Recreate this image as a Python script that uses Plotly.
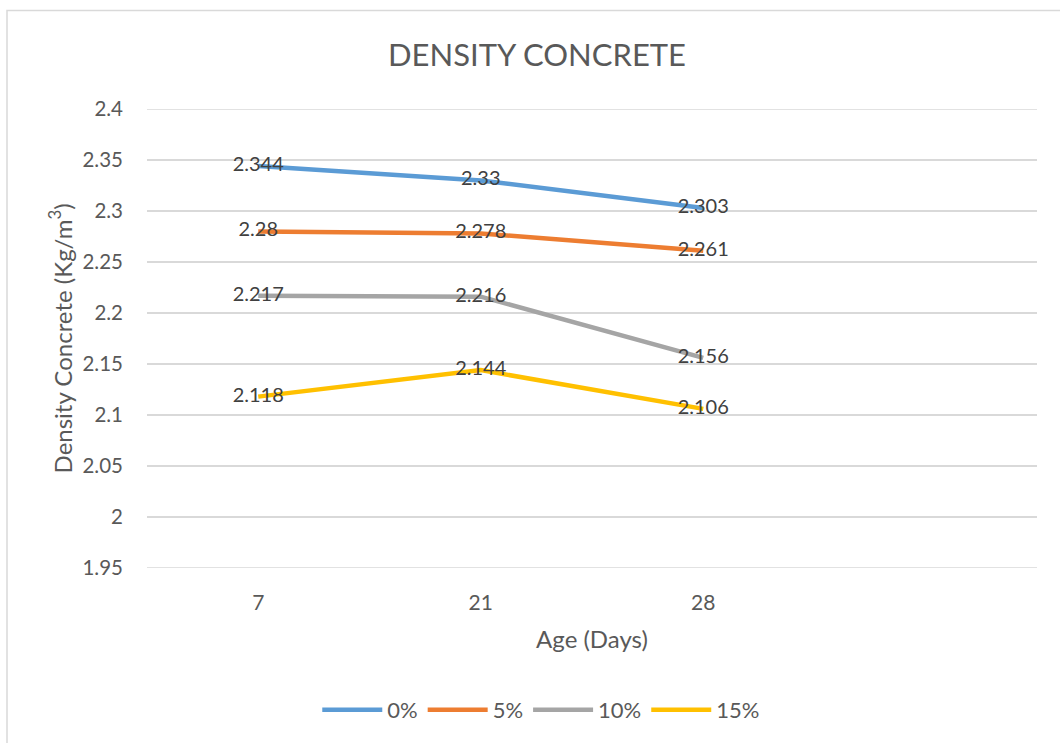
import plotly.graph_objects as go

# Age in days (4th slot on the axis is empty, as in the original)
ages = ["7", "21", "28"]
x_pos = [0, 1, 2]

series_names = ["0%", "5%", "10%", "15%"]
d0 = [2.344, 2.33, 2.303]
d5 = [2.28, 2.278, 2.261]
d10 = [2.217, 2.216, 2.156]
d15 = [2.118, 2.144, 2.106]

y_ticks = [1.95, 2.0, 2.05, 2.1, 2.15, 2.2, 2.25, 2.3, 2.35, 2.4]
y_tick_text = ["1.95", "2", "2.05", "2.1", "2.15", "2.2", "2.25", "2.3", "2.35", "2.4"]

colors = ["#5b9bd5", "#ed7d31", "#a5a5a5", "#ffc000"]
FONT = "Lato, Open Sans, sans-serif"
GRID = "#d9d9d9"

fig = go.Figure()
for name, vals, c in zip(series_names, [d0, d5, d10, d15], colors):
    fig.add_trace(go.Scatter(
        x=x_pos, y=vals, name=name, mode="lines+text",
        line=dict(color=c, width=4.5),
        text=[str(v) for v in vals], textposition="middle center",
        textfont=dict(family=FONT, size=20, color="#404040"),
        cliponaxis=False,
    ))

fig.update_layout(
    width=1060, height=743,
    margin=dict(l=147, r=23, t=109, b=173),
    paper_bgcolor="white", plot_bgcolor="white",
    font=dict(family=FONT, color="#595959"),
    title=dict(text="DENSITY CONCRETE", x=0.5066, xanchor="center",
               y=0.926, yanchor="middle",
               font=dict(family=FONT, size=31, color="#595959")),
    xaxis=dict(range=[-0.5, 3.5], tickvals=x_pos, ticktext=ages,
               showgrid=False, zeroline=False, showline=False, ticks="",
               ticklabelstandoff=20,
               tickfont=dict(size=21, color="#595959"),
               title=dict(text="Age (Days)", font=dict(size=24, color="#595959"), standoff=18)),
    yaxis=dict(range=[1.95, 2.4], tickvals=y_ticks, ticktext=y_tick_text,
               showgrid=True, gridcolor=GRID, gridwidth=1.5,
               zeroline=False, showline=False, ticks="", ticklabelstandoff=23,
               tickfont=dict(size=20.5, color="#595959")),
    legend=dict(orientation="h", x=0.443, xanchor="center", y=-0.309, yanchor="middle",
                itemwidth=60, font=dict(size=22, color="#595959")),
    annotations=[dict(text="Density Concrete (Kg/m<sup>3</sup>)", textangle=-90,
                      xref="paper", yref="paper", x=-0.0978, y=0.5,
                      xanchor="center", yanchor="middle", showarrow=False,
                      font=dict(family=FONT, size=24, color="#595959"))],
    shapes=[
        dict(type="rect", xref="paper", yref="paper",
             x0=-0.1573, x1=1.1, y0=-0.6, y1=1.2148,
             line=dict(color=GRID, width=1.5), fillcolor="rgba(0,0,0,0)", layer="below"),
        # edge gridlines that plotly leaves out at the ends of the range
        dict(type="line", xref="paper", yref="y", x0=0, x1=1, y0=y_ticks[0], y1=y_ticks[0],
             line=dict(color=GRID, width=1.5), layer="below"),
        dict(type="line", xref="paper", yref="y", x0=0, x1=1, y0=y_ticks[-1], y1=y_ticks[-1],
             line=dict(color=GRID, width=1.5), layer="below"),
    ],
)

fig.write_html("out.html", config={"displayModeBar": False},
               post_script="document.body.style.margin='0';")
